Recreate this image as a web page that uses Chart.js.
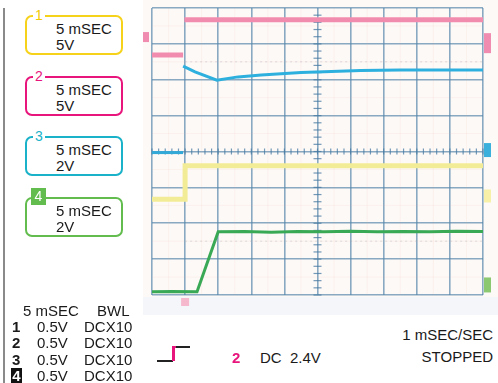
<!DOCTYPE html>
<html>
<head>
<meta charset="utf-8">
<script src="https://cdn.jsdelivr.net/npm/chart.js@4/dist/chart.umd.min.js"></script>
<style>
  html, body { margin: 0; padding: 0; background: #ffffff; }
  body { width: 498px; height: 383px; position: relative; overflow: hidden;
         font-family: "Liberation Sans", Arial, sans-serif; color: #1a1a1a; }
  #rail { position: absolute; left: 3px; top: 8px; width: 2px; height: 375px; background: #8a8a8a; }
  #screen { position: absolute; left: 143px; top: 0; width: 355px; height: 297px; background: #fdf9f7; }
  #band { position: absolute; left: 143px; top: 297px; width: 355px; height: 18px; background: #f4f6fa; }
  #plot { position: absolute; left: 143px; top: 0; width: 355px; height: 315px; filter: blur(0.6px); }
  .box { position: absolute; left: 25px; width: 94px; height: 36px; border: 2px solid; border-radius: 7px; }
  .box .tag { position: absolute; left: 6px; top: -9px; background: #fff; padding: 0 2px; font-size: 14px; line-height: 14px; }
  .box .l1, .box .l2 { position: absolute; left: 29px; font-size: 15px; line-height: 15px; }
  .box .l1 { top: 4px; }
  .box .l2 { top: 20px; }
  .box .chip { position: absolute; left: 4px; top: -11px; width: 15px; height: 17px; color: #fff;
               font-size: 14px; line-height: 17px; text-align: center; }
  .txt { position: absolute; font-size: 15px; line-height: 15px; white-space: pre; }
  .num { font-weight: bold; }
</style>
</head>
<body>
<div id="rail"></div>
<div id="screen"></div>
<div id="band"></div>
<div id="plot"><canvas id="scope"></canvas></div>

<div class="box" style="top:15px;border-color:#f6d21a"><span class="tag" style="color:#f2c900">1</span><span class="l1">5 mSEC</span><span class="l2">5V</span></div>
<div class="box" style="top:76px;border-color:#e8157c"><span class="tag" style="color:#e8157c">2</span><span class="l1">5 mSEC</span><span class="l2">5V</span></div>
<div class="box" style="top:136px;border-color:#19b2c8"><span class="tag" style="color:#19b2c8">3</span><span class="l1">5 mSEC</span><span class="l2">2V</span></div>
<div class="box" style="top:197px;border-color:#62bd4e"><span class="chip" style="background:#62bd4e">4</span><span class="l1">5 mSEC</span><span class="l2">2V</span></div>

<div class="txt" style="left:23px;top:303px">5 mSEC</div>
<div class="txt" style="left:97px;top:303px">BWL</div>
<div class="txt num" style="left:12px;top:319px">1</div>
<div class="txt" style="left:37px;top:319px">0.5V</div><div class="txt" style="left:84px;top:319px">DCX10</div>
<div class="txt num" style="left:12px;top:335px">2</div>
<div class="txt" style="left:37px;top:335px">0.5V</div><div class="txt" style="left:84px;top:335px">DCX10</div>
<div class="txt num" style="left:12px;top:352px">3</div>
<div class="txt" style="left:37px;top:352px">0.5V</div><div class="txt" style="left:84px;top:352px">DCX10</div>
<div class="txt num" style="left:11px;top:368px;background:#111;color:#fff;width:11px;height:15px;text-align:center">4</div>
<div class="txt" style="left:37px;top:368px">0.5V</div><div class="txt" style="left:84px;top:368px">DCX10</div>

<!-- trigger slope symbol -->
<div style="position:absolute;left:157px;top:360px;width:16px;height:1.5px;background:#222"></div>
<div style="position:absolute;left:172px;top:346px;width:2.5px;height:15px;background:#e8157c"></div>
<div style="position:absolute;left:172px;top:346px;width:5px;height:2px;background:#e8157c"></div>
<div style="position:absolute;left:176px;top:346px;width:14px;height:1.5px;background:#222"></div>
<div class="txt num" style="left:232px;top:350px;color:#e8157c">2</div>
<div class="txt" style="left:260px;top:350px">DC  2.4V</div>
<div class="txt" style="right:5px;top:327px;text-align:right">1 mSEC/SEC</div>
<div class="txt" style="right:5px;top:349px;text-align:right">STOPPED</div>

<script>
// Screen graticule: 10 horizontal divisions, 8 vertical divisions
const xDivisions = 10;
const yDivisions = 8;

// Channel 1 (yellow) - time in divisions, level in divisions
const ch1Time  = [0, 1.0, 1.0, 10];
const ch1Level = [2.67, 2.67, 3.6, 3.6];

// Channel 2 (magenta) - before and after the trigger (no visible edge)
const ch2PreTime   = [0, 0.94];
const ch2PreLevel  = [6.69, 6.69];
const ch2PostTime  = [0.98, 10];
const ch2PostLevel = [7.67, 7.67];

// Channel 3 (cyan) - pre-trigger segment and post-trigger sag/recovery
const ch3PreTime  = [0, 0.94];
const ch3PreLevel = [3.97, 3.97];
const ch3Time  = [0.94, 1.3, 1.96, 2.6, 3.3, 4.5, 5.2, 6.3, 7.5, 8.8, 10];
const ch3Level = [6.38, 6.22, 5.99, 6.08, 6.13, 6.2, 6.22, 6.26, 6.27, 6.27, 6.27];

// Channel 4 (green) - ramp after trigger
const ch4Time  = [0, 0.6, 1.36, 2.0, 2.8, 3.6, 4.4, 5.2, 6.0, 6.8, 7.6, 8.4, 9.2, 10];
const ch4Level = [0.09, 0.1, 0.09, 1.76, 1.77, 1.75, 1.77, 1.76, 1.78, 1.76, 1.77, 1.76, 1.78, 1.77];

// Faint reference traces
const refTime = [1.0, 10];
const refUpper = [6.5, 6.5];
const refLower = [1.5, 1.5];

// Ground-level markers on the screen edges (levels in divisions)
const leftMarkers  = [{ level: 7.19, color: '#f08cb0' }];
const rightMarkers = [
  { level: 7.02, color: '#f08cb0', h: 20 },
  { level: 4.04, color: '#3cb0dc', h: 14 },
  { level: 2.76, color: '#f6f0a8', h: 13 },
  { level: 0.28, color: '#8cc870', h: 15 }
];
const triggerTime = 1.0;

const pts = (xs, ys) => xs.map((x, i) => ({ x: x, y: ys[i] }));

const trace = (data, color, width, extra) => Object.assign({
  data: data, borderColor: color, borderWidth: width, pointRadius: 0,
  tension: 0, fill: false
}, extra || {});

// Extra screen details: half-division hairlines, centre-axis ticks, edge markers
const screenDecor = {
  id: 'screenDecor',
  beforeDatasetsDraw(chart) {
    const { ctx, chartArea: a, scales: { x, y } } = chart;
    ctx.save();
    ctx.strokeStyle = 'rgba(240,170,150,0.10)';
    ctx.lineWidth = 1;
    for (let i = 0.5; i < xDivisions; i += 1) {
      const px = x.getPixelForValue(i);
      ctx.beginPath(); ctx.moveTo(px, a.top); ctx.lineTo(px, a.bottom); ctx.stroke();
    }
    for (let j = 0.5; j < yDivisions; j += 1) {
      const py = y.getPixelForValue(j);
      ctx.beginPath(); ctx.moveTo(a.left, py); ctx.lineTo(a.right, py); ctx.stroke();
    }
    // minor ticks on the centre axes
    ctx.strokeStyle = 'rgba(70,120,160,0.75)';
    ctx.lineWidth = 1.2;
    const cx = x.getPixelForValue(xDivisions / 2);
    const cy = y.getPixelForValue(yDivisions / 2);
    for (let v = 0; v <= yDivisions; v += 0.2) {
      const py = y.getPixelForValue(v);
      ctx.beginPath(); ctx.moveTo(cx - 4, py); ctx.lineTo(cx + 4, py); ctx.stroke();
    }
    for (let v = 0; v <= xDivisions; v += 0.2) {
      const px = x.getPixelForValue(v);
      ctx.beginPath(); ctx.moveTo(px, cy - 3); ctx.lineTo(px, cy + 3); ctx.stroke();
    }
    ctx.restore();
  },
  afterDatasetsDraw(chart) {
    const { ctx, chartArea: a, scales: { x, y } } = chart;
    ctx.save();
    leftMarkers.forEach(m => {
      const py = y.getPixelForValue(m.level);
      ctx.fillStyle = m.color;
      ctx.fillRect(a.left - 9, py - 5, 6, 10);
    });
    rightMarkers.forEach(m => {
      const py = y.getPixelForValue(m.level);
      ctx.fillStyle = m.color;
      ctx.fillRect(a.right + 1, py - m.h / 2, 7, m.h);
    });
    const tx = x.getPixelForValue(triggerTime);
    ctx.fillStyle = '#f5b8cc';
    ctx.fillRect(tx - 4, a.bottom + 3, 8, 8);
    ctx.restore();
  }
};

new Chart(document.getElementById('scope'), {
  type: 'line',
  data: {
    datasets: [
      trace(pts(refTime, refUpper), 'rgba(150,150,170,0.3)', 1, { borderDash: [2, 3] }),
      trace(pts(refTime, refLower), 'rgba(150,160,170,0.3)', 1, { borderDash: [2, 3] }),
      trace(pts(ch2PreTime, ch2PreLevel), '#f28cae', 5),
      trace(pts(ch2PostTime, ch2PostLevel), '#f28cae', 5),
      trace(pts(ch1Time, ch1Level), '#f3ec96', 5),
      trace(pts(ch3PreTime, ch3PreLevel), '#33a9d8', 3),
      trace(pts(ch3Time, ch3Level), '#2eb0de', 3),
      trace(pts(ch4Time, ch4Level), '#3aa956', 3)
    ]
  },
  options: {
    responsive: true,
    maintainAspectRatio: false,
    animation: false,
    layout: { padding: { left: 9, right: 15, top: 8, bottom: 20 } },
    plugins: { legend: { display: false }, tooltip: { enabled: false } },
    scales: {
      x: {
        type: 'linear', min: 0, max: xDivisions,
        ticks: { display: false, stepSize: 1 },
        grid: { color: 'rgba(85,135,170,0.7)', lineWidth: 1.6, drawTicks: false },
        border: { display: false }
      },
      y: {
        type: 'linear', min: 0, max: yDivisions,
        ticks: { display: false, stepSize: 1 },
        grid: { color: 'rgba(85,135,170,0.7)', lineWidth: 1.6, drawTicks: false },
        border: { display: false }
      }
    }
  },
  plugins: [screenDecor]
});
</script>
</body>
</html>
